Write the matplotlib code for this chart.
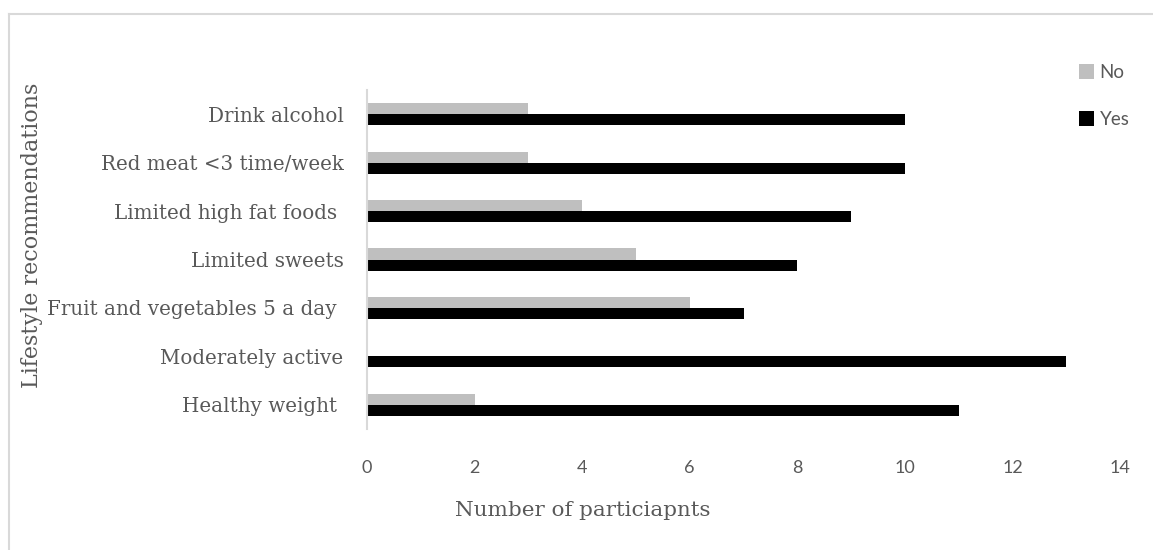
import matplotlib
matplotlib.use("Agg")
import matplotlib.pyplot as plt
import numpy as np

categories = ['Healthy weight ', 'Moderately active', 'Fruit and vegetables 5 a day ',
              'Limited sweets', 'Limited high fat foods ', 'Red meat <3 time/week',
              'Drink alcohol']
yes_vals = [11, 13, 7, 8, 9, 10, 10]
no_vals = [2, 0, 6, 5, 4, 3, 3]

W, H = 1153, 550
fig = plt.figure(figsize=(W / 100, H / 100), dpi=100)
ax = fig.add_axes([367 / W, 1 - 429 / H, (1120 - 367) / W, (429 - 90) / H])

y = np.arange(len(categories))
h = 0.23
ax.barh(y - h / 2, yes_vals, height=h, color='black', label='Yes')
ax.barh(y + h / 2, no_vals, height=h, color='#bfbfbf', label='No')

ax.set_xlim(0, 14)
ax.set_ylim(-0.5, len(categories) - 0.5)
ax.set_xticks(range(0, 15, 2))
ax.set_yticks(y)
ax.set_yticklabels(categories, family='DejaVu Serif', fontsize=14.3, color='#595959')
for lbl in ax.get_xticklabels():
    lbl.set_family('Lato')
    lbl.set_fontsize(13)
    lbl.set_color('#595959')
ax.tick_params(axis='both', length=0)
ax.tick_params(axis='x', pad=22)
ax.tick_params(axis='y', pad=17)
for s in ['top', 'right', 'bottom']:
    ax.spines[s].set_visible(False)
ax.spines['left'].set_color('#d9d9d9')
ax.spines['left'].set_linewidth(1.5)

fig.text(583 / W, 1 - 510 / H, 'Number of particiapnts', family='DejaVu Serif',
         fontsize=15.4, color='#595959', ha='center', va='center')
fig.text(32 / W, 1 - 235 / H, 'Lifestyle recommendations', family='DejaVu Serif',
         fontsize=16, color='#595959', ha='center', va='center', rotation=90)

handles, labels = ax.get_legend_handles_labels()
leg = fig.legend(handles[::-1], labels[::-1], loc='upper left',
                 bbox_to_anchor=(1062 / W, 1 - 47 / H), frameon=False,
                 prop={'family': 'Lato', 'size': 13.5}, handlelength=0.8,
                 handleheight=0.8, handletextpad=0.3, labelspacing=1.6)
for t in leg.get_texts():
    t.set_color('#595959')

# light frame around the chart area
fig.add_artist(plt.Line2D([9 / W, 9 / W], [0, 1 - 14 / H], color='#d9d9d9', lw=1.5))
fig.add_artist(plt.Line2D([9 / W, 1], [1 - 14 / H, 1 - 14 / H], color='#d9d9d9', lw=1.5))

fig.savefig('out.png', dpi=100)
